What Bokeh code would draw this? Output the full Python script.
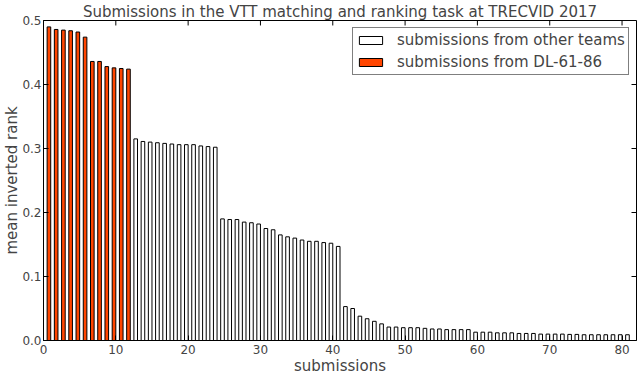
from bokeh.plotting import figure
from bokeh.models import (ColumnDataSource, Legend, LegendItem,
                          PrintfTickFormatter, FixedTicker, Range1d)
from bokeh.embed import file_html
from bokeh.resources import INLINE

# ---- data ----
dl_values = [0.490, 0.486, 0.485, 0.484, 0.482, 0.474, 0.436, 0.436,
             0.428, 0.426, 0.425, 0.424]
other_values = [0.315, 0.311, 0.310, 0.309, 0.308, 0.307, 0.306, 0.306,
                0.306, 0.304, 0.303, 0.302,
                0.190, 0.189, 0.189, 0.185, 0.184, 0.182, 0.175, 0.173,
                0.165, 0.162, 0.160, 0.157, 0.155, 0.155, 0.153, 0.152, 0.147,
                0.053, 0.050, 0.038, 0.034, 0.030, 0.026, 0.021, 0.021,
                0.020, 0.020, 0.020, 0.019,
                0.018, 0.018, 0.017, 0.017, 0.017, 0.017,
                0.013, 0.013, 0.013, 0.012, 0.012, 0.012,
                0.011, 0.011, 0.011, 0.010, 0.010, 0.010, 0.010,
                0.0095, 0.0095, 0.009, 0.009, 0.009, 0.009, 0.009, 0.009, 0.009]
x_ticks = [0, 10, 20, 30, 40, 50, 60, 70, 80]
y_ticks = [0.0, 0.1, 0.2, 0.3, 0.4, 0.5]
x_max = 82
y_max = 0.5
title_text = "Submissions in the VTT matching and ranking task at TRECVID 2017"
x_label = "submissions"
y_label = "mean inverted rank"
legend_labels = ["submissions from other teams", "submissions from DL-61-86"]

n_dl = len(dl_values)
dl_x = [i + 0.75 for i in range(n_dl)]
other_x = [n_dl + i + 0.75 for i in range(len(other_values))]

src_dl = ColumnDataSource(dict(x=dl_x, top=dl_values))
src_other = ColumnDataSource(dict(x=other_x, top=other_values))

FONT = "DejaVu Sans"

p = figure(width=640, height=377, output_backend="svg", toolbar_location=None,
           x_range=Range1d(0, x_max), y_range=Range1d(0, y_max),
           min_border_left=43, min_border_right=4, min_border_top=18,
           min_border_bottom=37)
p.title.text = title_text
p.title.text_font = FONT
p.title.text_font_size = "15px"
p.title.text_font_style = "normal"
p.title.align = "center"
p.title.standoff = 0
p.title.offset = 0

r_other = p.vbar(x="x", top="top", width=0.5, bottom=0, source=src_other,
                 fill_color="white", line_color="black", line_width=1)
r_dl = p.vbar(x="x", top="top", width=0.5, bottom=0, source=src_dl,
              fill_color="#ff4500", line_color="black", line_width=1)

# mirrored inward ticks on the top and right frame edges
tick_len_y = y_max * 5 / 322.0
tick_len_x = x_max * 5 / 593.0
p.segment(x0=x_ticks, x1=x_ticks, y0=[y_max] * len(x_ticks),
          y1=[y_max - tick_len_y] * len(x_ticks), line_color="black", line_width=1)
p.segment(x0=[x_max] * len(y_ticks), x1=[x_max - tick_len_x] * len(y_ticks),
          y0=y_ticks, y1=y_ticks, line_color="black", line_width=1)

p.xgrid.visible = False
p.ygrid.visible = False
p.outline_line_color = "black"
p.outline_line_width = 1
p.background_fill_color = "white"
p.border_fill_color = "white"

for ax in (p.xaxis[0], p.yaxis[0]):
    ax.major_tick_in = 5
    ax.major_tick_out = 0
    ax.minor_tick_line_color = None
    ax.major_label_text_font = FONT
    ax.major_label_text_font_size = "12px"
    ax.axis_label_text_font = FONT
    ax.axis_label_text_font_size = "15px"
    ax.axis_label_text_font_style = "normal"
    ax.axis_line_color = "black"

p.xaxis[0].ticker = FixedTicker(ticks=x_ticks)
p.yaxis[0].ticker = FixedTicker(ticks=y_ticks)
p.yaxis[0].formatter = PrintfTickFormatter(format="%.1f")
p.xaxis[0].axis_label = x_label
p.yaxis[0].axis_label = y_label
p.xaxis[0].major_label_standoff = 4
p.yaxis[0].major_label_standoff = 2
p.xaxis[0].axis_label_standoff = 0
p.yaxis[0].axis_label_standoff = -2

legend = Legend(items=[LegendItem(label=legend_labels[0], renderers=[r_other]),
                       LegendItem(label=legend_labels[1], renderers=[r_dl])],
                location=(309, 265))
legend.label_text_font = FONT
legend.label_text_font_size = "15px"
legend.glyph_width = 29
legend.glyph_height = 10
legend.label_standoff = 12
legend.padding = 3
legend.spacing = 4
legend.margin = 0
legend.border_line_color = "black"
legend.border_line_width = 1
legend.background_fill_alpha = 1
p.add_layout(legend, "center")

open("out.html", "w").write(file_html(p, INLINE))
